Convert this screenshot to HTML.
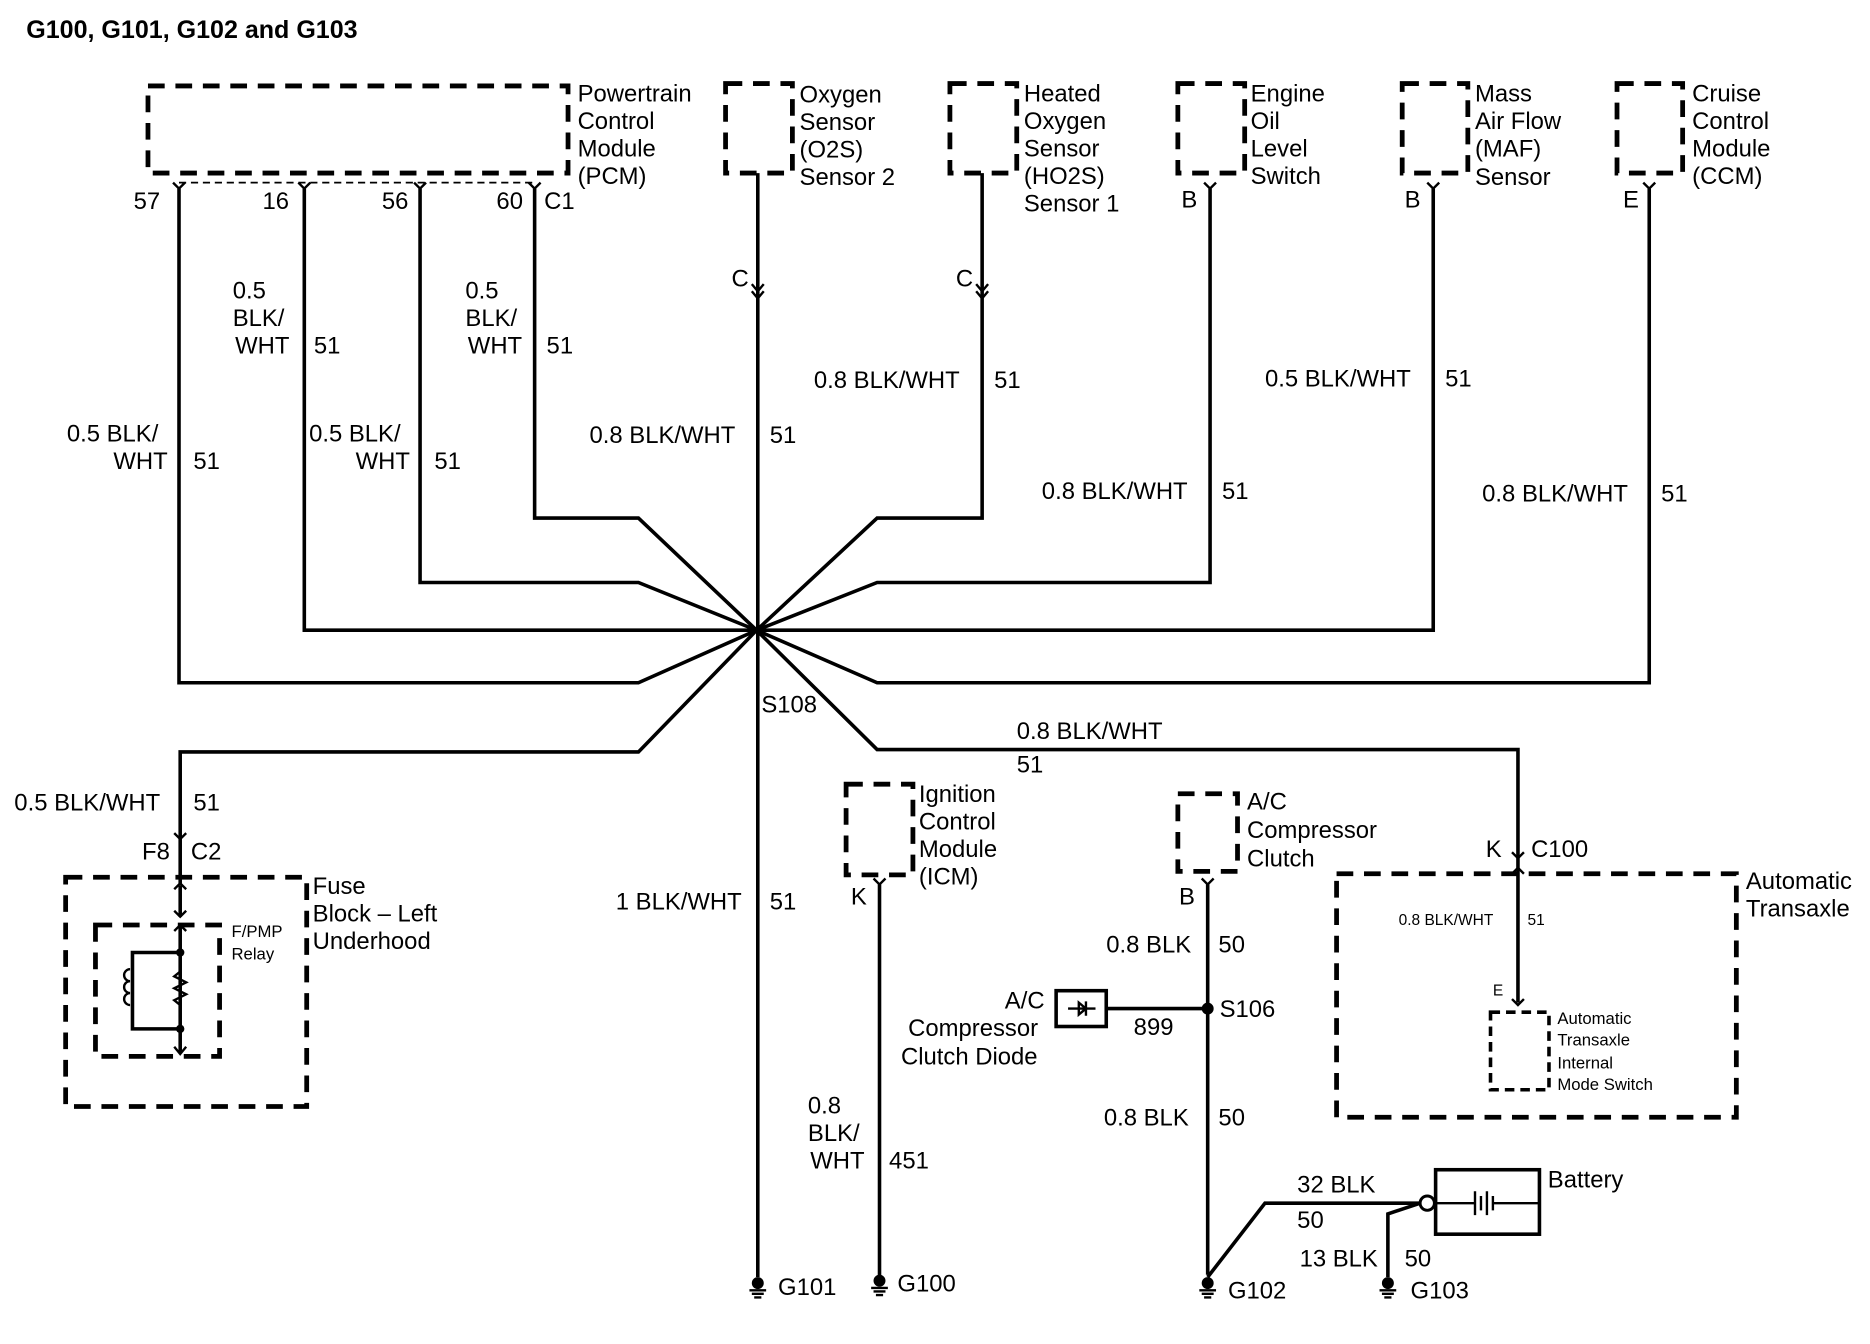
<!DOCTYPE html>
<html><head><meta charset="utf-8"><style>
html,body{margin:0;padding:0;background:#fff;width:1870px;height:1344px;overflow:hidden}
svg{display:block}
text{font-family:"Liberation Sans",Arial,sans-serif;font-size:20px;fill:#000}
.w{fill:none;stroke:#000;stroke-width:3}
.d{fill:none;stroke:#000;stroke-width:4;stroke-dasharray:14,9}
.ds{fill:none;stroke:#000;stroke-width:1.5;stroke-dasharray:6,4}
.t{fill:none;stroke:#000;stroke-width:2}
</style></head><body>
<svg width="1870" height="1344" viewBox="0 0 1567 1126" preserveAspectRatio="none" xmlns="http://www.w3.org/2000/svg">
<defs>
<g id="pin"><path class="t" d="M-5,-5 L0,0 L5,-5"/></g>
<g id="cn"><path class="t" d="M-5,-6 L0,0 L5,-6 M-5,0 L0,6 L5,0"/></g>
<g id="up"><path class="t" d="M-5,5 L0,0 L5,5"/></g>
<g id="gnd"><circle cx="0" cy="0" r="5" fill="#000"/><path class="t" d="M-7,6 H7 M-5,9 H5 M-3,12 H3"/></g>
</defs>
<text x="22" y="32" style="font-weight:bold;font-size:21px">G100, G101, G102 and G103</text>

<rect class="d" x="124" y="72" width="352" height="73"/>
<text x="484" y="85">Powertrain</text><text x="484" y="108">Control</text><text x="484" y="131">Module</text><text x="484" y="154">(PCM)</text>
<path class="ds" d="M150,153 H448"/>
<use href="#pin" x="150" y="158"/><use href="#pin" x="255" y="158"/><use href="#pin" x="352" y="158"/><use href="#pin" x="448" y="158"/>
<text x="112" y="175">57</text><text x="220" y="175">16</text><text x="320" y="175">56</text><text x="416" y="175">60</text><text x="456" y="175">C1</text>

<path class="w" d="M150,158 V572 H535 L634,528"/>
<path class="w" d="M255,158 V528 H634"/>
<path class="w" d="M352,158 V488 H535 L634,528"/>
<path class="w" d="M448,158 V434 H535 L634,528"/>
<path class="w" d="M635,145 V1070"/>
<path class="w" d="M823,145 V434 H735 L634,528"/>
<path class="w" d="M1014,158 V488 H735 L634,528"/>
<path class="w" d="M1201,158 V528 H634"/>
<path class="w" d="M1382,158 V572 H735 L634,528"/>
<path class="w" d="M634,528 L535,630 H151 V742"/>
<path class="w" d="M634,528 L735,628 H1272 V840"/>

<text x="56" y="370">0.5 BLK/</text><text x="95" y="393">WHT</text><text x="162" y="393">51</text>
<text x="195" y="250">0.5</text><text x="195" y="273">BLK/</text><text x="197" y="296">WHT</text><text x="263" y="296">51</text>
<text x="259" y="370">0.5 BLK/</text><text x="298" y="393">WHT</text><text x="364" y="393">51</text>
<text x="390" y="250">0.5</text><text x="390" y="273">BLK/</text><text x="392" y="296">WHT</text><text x="458" y="296">51</text>
<text x="494" y="371">0.8 BLK/WHT</text><text x="645" y="371">51</text>
<text x="682" y="325">0.8 BLK/WHT</text><text x="833" y="325">51</text>
<text x="873" y="418">0.8 BLK/WHT</text><text x="1024" y="418">51</text>
<text x="1060" y="324">0.5 BLK/WHT</text><text x="1211" y="324">51</text>
<text x="1242" y="420">0.8 BLK/WHT</text><text x="1392" y="420">51</text>
<text x="638" y="597">S108</text>
<text x="852" y="619">0.8 BLK/WHT</text><text x="852" y="647">51</text>
<text x="12" y="679">0.5 BLK/WHT</text><text x="162" y="679">51</text>

<rect class="d" x="608" y="70" width="56" height="75"/>
<text x="670" y="86">Oxygen</text><text x="670" y="109">Sensor</text><text x="670" y="132">(O2S)</text><text x="670" y="155">Sensor 2</text>
<use href="#cn" x="635" y="244"/><text x="613" y="240">C</text>
<rect class="d" x="796" y="70" width="56" height="75"/>
<text x="858" y="85">Heated</text><text x="858" y="108">Oxygen</text><text x="858" y="131">Sensor</text><text x="858" y="154">(HO2S)</text><text x="858" y="177">Sensor 1</text>
<use href="#cn" x="823" y="244"/><text x="801" y="240">C</text>
<rect class="d" x="987" y="70" width="56" height="75"/>
<text x="1048" y="85">Engine</text><text x="1048" y="108">Oil</text><text x="1048" y="131">Level</text><text x="1048" y="154">Switch</text>
<use href="#pin" x="1014" y="158"/><text x="990" y="174">B</text>
<rect class="d" x="1175" y="70" width="55" height="75"/>
<text x="1236" y="85">Mass</text><text x="1236" y="108">Air Flow</text><text x="1236" y="131">(MAF)</text><text x="1236" y="155">Sensor</text>
<use href="#pin" x="1201" y="158"/><text x="1177" y="174">B</text>
<rect class="d" x="1355" y="70" width="55" height="75"/>
<text x="1418" y="85">Cruise</text><text x="1418" y="108">Control</text><text x="1418" y="131">Module</text><text x="1418" y="154">(CCM)</text>
<use href="#pin" x="1382" y="158"/><text x="1360" y="174">E</text>

<use href="#pin" x="151" y="703"/><text x="119" y="720">F8</text><text x="160" y="720">C2</text>
<rect class="d" x="55" y="735" width="202" height="192"/>
<rect class="d" x="80" y="775" width="104" height="110"/>
<use href="#up" x="151" y="740"/><use href="#pin" x="151" y="768"/><use href="#up" x="151" y="775"/>
<path class="w" d="M151,742 V768 M151,775 V882"/>
<path class="t" d="M146,877 L151,883 L156,877"/>
<path class="w" d="M151,798 H111 V862 H151"/>
<circle cx="151" cy="798" r="3.5"/><circle cx="151" cy="862" r="3.5"/>
<path class="t" d="M111,812 a5,5 0 0 0 0,10 a5,5 0 0 0 0,10 a5,5 0 0 0 0,10" transform="translate(-2,0)"/>
<path class="t" d="M151,814 L146,818 L156,823 L146,828 L156,833 L146,838 L151,842" fill="none"/>
<text x="194" y="785" style="font-size:14px">F/PMP</text><text x="194" y="804" style="font-size:14px">Relay</text>
<text x="262" y="749">Fuse</text><text x="262" y="772">Block – Left</text><text x="262" y="795">Underhood</text>

<text x="516" y="762">1 BLK/WHT</text><text x="645" y="762">51</text>
<use href="#gnd" x="635" y="1075"/><text x="652" y="1085">G101</text>

<rect class="d" x="709" y="657" width="56" height="76"/>
<text x="770" y="672">Ignition</text><text x="770" y="695">Control</text><text x="770" y="718">Module</text><text x="770" y="741">(ICM)</text>
<use href="#pin" x="737" y="741"/><text x="713" y="758">K</text>
<path class="w" d="M737,741 V1070"/>
<text x="677" y="933">0.8</text><text x="677" y="956">BLK/</text><text x="679" y="979">WHT</text><text x="745" y="979">451</text>
<use href="#gnd" x="737" y="1073"/><text x="752" y="1082">G100</text>

<rect class="d" x="987" y="665" width="50" height="65"/>
<text x="1045" y="678">A/C</text><text x="1045" y="702">Compressor</text><text x="1045" y="726">Clutch</text>
<use href="#pin" x="1012" y="741"/><text x="988" y="758">B</text>
<path class="w" d="M1012,741 V1068"/>
<text x="927" y="798">0.8 BLK</text><text x="1021" y="798">50</text>
<circle cx="1012" cy="845" r="5"/><text x="1022" y="852">S106</text>
<path class="w" d="M927,845 H1012"/><text x="950" y="867">899</text>
<rect x="885" y="830" width="42" height="30" class="w"/>
<path class="t" d="M895,845 H918 M910,839 V851 M910,845 L904,840 V850 Z"/>
<text x="842" y="845">A/C</text><text x="761" y="868">Compressor</text><text x="755" y="892">Clutch Diode</text>
<text x="925" y="943">0.8 BLK</text><text x="1021" y="943">50</text>
<use href="#gnd" x="1012" y="1075"/><text x="1029" y="1088">G102</text>

<path class="w" d="M1012,1070 L1060,1008 H1190"/>
<path class="w" d="M1163,1070 V1017 L1190,1008"/>
<circle cx="1196" cy="1008" r="6" fill="#fff" stroke="#000" stroke-width="2.5"/>
<rect x="1203" y="980" width="87" height="54" class="w"/>
<path class="t" d="M1203,1008 H1236 M1236,998 V1018 M1241,1002 V1014 M1246,998 V1018 M1251,1002 V1014 M1251,1008 H1290"/>
<text x="1297" y="995">Battery</text>
<text x="1087" y="999">32 BLK</text><text x="1087" y="1029">50</text>
<text x="1089" y="1061">13 BLK</text><text x="1177" y="1061">50</text>
<use href="#gnd" x="1163" y="1075"/><text x="1182" y="1088">G103</text>

<use href="#pin" x="1272" y="719"/><use href="#up" x="1272" y="727"/>
<text x="1245" y="718">K</text><text x="1283" y="718">C100</text>
<rect class="d" x="1120" y="732" width="335" height="204"/>
<text x="1463" y="745">Automatic</text><text x="1463" y="768">Transaxle</text>
<text x="1172" y="775" style="font-size:13px">0.8 BLK/WHT</text><text x="1280" y="775" style="font-size:13px">51</text>
<use href="#pin" x="1272" y="842"/><text x="1251" y="834" style="font-size:13px">E</text>
<rect class="ds" style="stroke-width:3;stroke-dasharray:8,5" x="1249" y="848" width="49" height="65"/>
<text x="1305" y="858" style="font-size:14px">Automatic</text><text x="1305" y="876" style="font-size:14px">Transaxle</text><text x="1305" y="895" style="font-size:14px">Internal</text><text x="1305" y="913" style="font-size:14px">Mode Switch</text>
</svg>
</body></html>
